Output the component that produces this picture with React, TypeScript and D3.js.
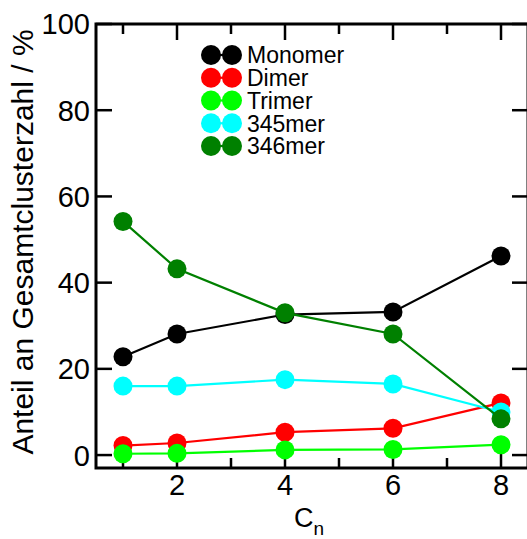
import React from "react";
import * as d3 from "d3";

const xValues = [1, 2, 4, 6, 8];
const seriesNames = ["Monomer", "Dimer", "Trimer", "345mer", "346mer"];
const seriesColors = ["#000000", "#ff0000", "#00ff00", "#00ffff", "#008000"];
const monomer = [22.8, 28.1, 32.6, 33.2, 46.2];
const dimer = [2.2, 2.8, 5.3, 6.2, 12.1];
const trimer = [0.3, 0.4, 1.2, 1.3, 2.4];
const mer345 = [16.0, 16.0, 17.5, 16.5, 10.0];
const mer346 = [54.2, 43.2, 33.0, 28.1, 8.4];
const seriesValues = [monomer, dimer, trimer, mer345, mer346];
const xMajorTicks = [2, 4, 6, 8];
const xMinorTicks = [1, 3, 5, 7];
const yTicks = [0, 20, 40, 60, 80, 100];

const W = 527;
const H = 539;
const L = 96;
const R = 528;
const T = 24;
const B = 468;
const FONT = "'Liberation Sans', Arial, sans-serif";

export default function App() {
  const x = d3.scaleLinear().domain([0.5, 8.5]).range([L, R]);
  const y = d3.scaleLinear().domain([-3, 100]).range([B, T]);
  const line = d3
    .line<number>()
    .x((_, i) => x(xValues[i]))
    .y((d) => y(d));

  return (
    <svg
      width={W}
      height={H}
      style={{ position: "absolute", left: 0, top: 0, background: "#fff" }}
      fontFamily={FONT}
    >
      <rect x={0} y={0} width={W} height={H} fill="#fff" />
      {/* ticks */}
      <g stroke="#000" strokeWidth={2.5}>
        {xMajorTicks.map((t) => (
          <g key={"xm" + t}>
            <line x1={x(t)} x2={x(t)} y1={B} y2={B - 16} />
            <line x1={x(t)} x2={x(t)} y1={T} y2={T + 16} />
          </g>
        ))}
        {xMinorTicks.map((t) => (
          <g key={"xn" + t}>
            <line x1={x(t)} x2={x(t)} y1={B} y2={B - 10} />
            <line x1={x(t)} x2={x(t)} y1={T} y2={T + 10} />
          </g>
        ))}
        {yTicks.map((t) => (
          <g key={"y" + t}>
            <line x1={L} x2={L + 16} y1={y(t)} y2={y(t)} />
            <line x1={R} x2={R - 16} y1={y(t)} y2={y(t)} />
          </g>
        ))}
      </g>
      {/* series */}
      {seriesValues.map((vals, si) => (
        <g key={seriesNames[si]}>
          <path d={line(vals) || ""} fill="none" stroke={seriesColors[si]} strokeWidth={2.2} />
          {vals.map((v, i) => (
            <circle key={i} cx={x(xValues[i])} cy={y(v)} r={9.5} fill={seriesColors[si]} />
          ))}
        </g>
      ))}
      {/* frame */}
      <rect x={L} y={T} width={R - L} height={B - T} fill="none" stroke="#000" strokeWidth={3} />
      {/* tick labels */}
      {yTicks.map((t) => (
        <text key={"yl" + t} x={90} y={y(t)} dy="0.36em" textAnchor="end" fontSize={29} fill="#000">
          {t}
        </text>
      ))}
      {xMajorTicks.map((t) => (
        <text key={"xl" + t} x={x(t)} y={495} textAnchor="middle" fontSize={29} fill="#000">
          {t}
        </text>
      ))}
      {/* axis titles */}
      <text
        transform={`translate(33,${(464 + 20) / 2}) rotate(-90)`}
        textAnchor="middle"
        fontSize={30}
        fill="#000"
      >
        Anteil an Gesamtclusterzahl / %
      </text>
      <text x={294} y={527} fontSize={27} fill="#000">
        C<tspan fontSize={19} dy={8}>n</tspan>
      </text>
      {/* legend */}
      {seriesNames.map((name, i) => {
        const ly = 55 + i * 22.75;
        return (
          <g key={"lg" + name}>
            <line x1={211} x2={232} y1={ly} y2={ly} stroke={seriesColors[i]} strokeWidth={2.2} />
            <circle cx={211} cy={ly} r={10} fill={seriesColors[i]} />
            <circle cx={232} cy={ly} r={10} fill={seriesColors[i]} />
            <text x={247} y={ly} dy="0.36em" fontSize={23} fill="#000">
              {name}
            </text>
          </g>
        );
      })}
    </svg>
  );
}
